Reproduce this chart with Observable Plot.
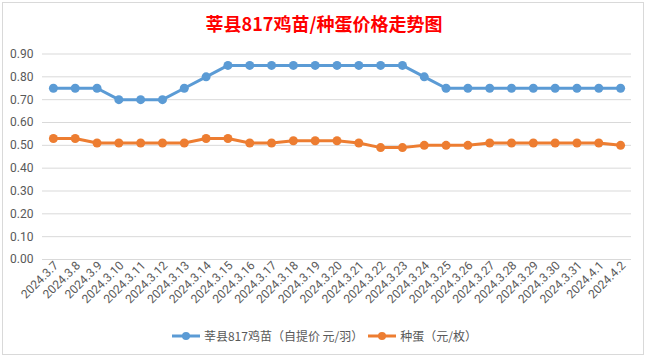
<!DOCTYPE html>
<html>
<head>
<meta charset="utf-8">
<script src="https://cdn.jsdelivr.net/npm/d3@7"></script>
<script src="https://cdn.jsdelivr.net/npm/@observablehq/plot@0.6"></script>
<style>
  html, body { margin:0; padding:0; background:#fff; }
  #wrap { position:relative; width:648px; height:359px; overflow:hidden; font-family:"Noto Sans CJK SC","Noto Sans",sans-serif; }
  #frame { position:absolute; left:2px; top:2px; width:642px; height:353px; border:1px solid #d9d9d9; box-sizing:border-box; }
  #title { position:absolute; left:0; width:648px; top:11px; text-align:center; color:#ff0000; font-weight:bold; font-size:18px; line-height:24px; }
  #chart { position:absolute; left:0; top:0; }
  #legend { position:absolute; left:0; width:648px; top:327px; display:flex; justify-content:center; align-items:center; font-size:12px; color:#595959; line-height:18px; }
  .item { display:flex; align-items:center; margin:0 2px; }
  .item svg { margin-right:3px; }
</style>
</head>
<body>
<div id="wrap">
  <div id="frame"></div>
  <div id="chart"></div>
  <div id="title">莘县817鸡苗/种蛋价格走势图</div>
  <div id="legend"></div>
</div>
<script>
const dates = ["2024.3.7","2024.3.8","2024.3.9","2024.3.10","2024.3.11","2024.3.12","2024.3.13","2024.3.14","2024.3.15","2024.3.16","2024.3.17","2024.3.18","2024.3.19","2024.3.20","2024.3.21","2024.3.22","2024.3.23","2024.3.24","2024.3.25","2024.3.26","2024.3.27","2024.3.28","2024.3.29","2024.3.30","2024.3.31","2024.4.1","2024.4.2"];
const chickPrice = [0.75,0.75,0.75,0.70,0.70,0.70,0.75,0.80,0.85,0.85,0.85,0.85,0.85,0.85,0.85,0.85,0.85,0.80,0.75,0.75,0.75,0.75,0.75,0.75,0.75,0.75,0.75];
const eggPrice = [0.53,0.53,0.51,0.51,0.51,0.51,0.51,0.53,0.53,0.51,0.51,0.52,0.52,0.52,0.51,0.49,0.49,0.50,0.50,0.50,0.51,0.51,0.51,0.51,0.51,0.51,0.50];
const seriesNames = ["莘县817鸡苗（自提价 元/羽）","种蛋（元/枚）"];
const seriesColors = ["#5B9BD5","#ED7D31"];
const yTicks = [0,0.1,0.2,0.3,0.4,0.5,0.6,0.7,0.8,0.9];

const data = dates.flatMap((d,i) => [
  {date:d, value:chickPrice[i], series:seriesNames[0]},
  {date:d, value:eggPrice[i], series:seriesNames[1]}
]);

const chart = Plot.plot({
  width:648, height:359,
  marginTop:53.5, marginBottom:100, marginLeft:42, marginRight:17,
  style:{fontFamily:"Roboto, 'Noto Sans', sans-serif", fontSize:"12px", color:"#595959", background:"transparent"},
  x:{type:"band", domain:dates, padding:0, round:false, label:null},
  y:{domain:[0,0.9], label:null},
  color:{domain:seriesNames, range:seriesColors},
  marks:[
    Plot.gridY(yTicks, {stroke:"#d9d9d9", strokeOpacity:1, strokeWidth:1}),
    Plot.axisY(yTicks, {tickSize:0, tickPadding:9, tickFormat:d=>d.toFixed(2), fontSize:12, label:null}),
    Plot.axisX({tickSize:0, tickPadding:4, tickRotate:-45, fontSize:12, label:null, dx:3}),
    Plot.line(data, {x:"date", y:"value", stroke:"series", strokeWidth:3}),
    Plot.dot(data, {x:"date", y:"value", fill:"series", r:4.5, stroke:null})
  ]
});
document.getElementById("chart").appendChild(chart);

const legend = document.getElementById("legend");
seriesNames.forEach((name,i) => {
  const item = document.createElement("div");
  item.className = "item";
  item.innerHTML = `<svg width="30" height="10"><line x1="1" x2="29" y1="5" y2="5" stroke="${seriesColors[i]}" stroke-width="3"/><circle cx="15" cy="5" r="4" fill="${seriesColors[i]}"/></svg><span>${name}</span>`;
  legend.appendChild(item);
});
</script>
</body>
</html>
